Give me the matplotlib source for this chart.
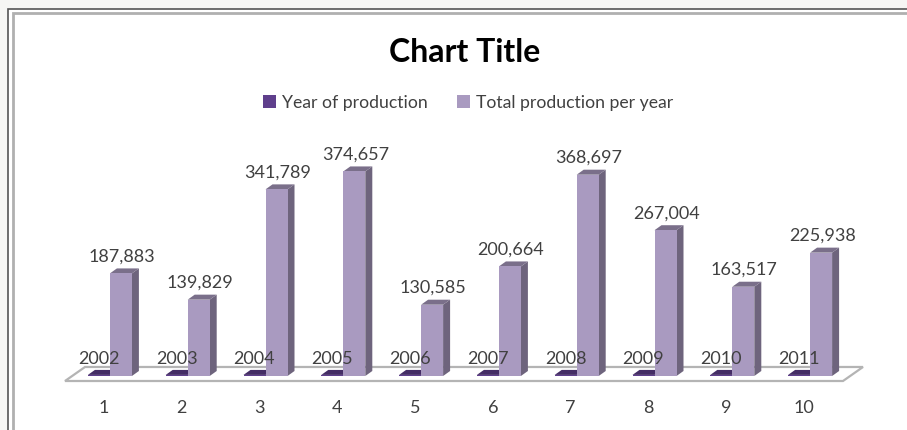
import matplotlib
matplotlib.use('Agg')
import matplotlib.pyplot as plt
from matplotlib.patches import Polygon, Rectangle

categories = [1, 2, 3, 4, 5, 6, 7, 8, 9, 10]
years = [2002, 2003, 2004, 2005, 2006, 2007, 2008, 2009, 2010, 2011]
totals = [187883, 139829, 341789, 374657, 130585, 200664, 368697, 267004, 163517, 225938]

W, H = 907, 430
plt.rcParams['font.family'] = ['Lato', 'DejaVu Sans']

DARK = '#5f3f8c'
LIGHT = '#a99ac0'
TEXT = '#404040'

# fake 3d depth of the boxes, in data units
DX = 7 / 77.8
DY = 5 / 0.000546
BAR_W = 22 / 77.8


def shade(color, f):
    c = matplotlib.colors.to_rgb(color)
    return tuple(v * f for v in c)


def box(ax, x, h, color):
    # front face through bar(), side and top as polygons
    ax.bar(x, h, BAR_W, align='edge', color=color, zorder=4)
    r = x + BAR_W
    ax.add_patch(Polygon([(r, 0), (r + DX, DY), (r + DX, h + DY), (r, h)],
                         fc=shade(color, 0.65), ec='none', zorder=3, clip_on=False))
    ax.add_patch(Polygon([(x, h), (r, h), (r + DX, h + DY), (x + DX, h + DY)],
                         fc=shade(color, 0.72), ec='none', zorder=3, clip_on=False))


fig = plt.figure(figsize=(W / 100, H / 100), dpi=100, facecolor='#f6f6f4')
ax = fig.add_axes([65 / W, (H - 381) / H, 778 / W, 281 / H])
ax.set_xlim(0.5, 10.5)
ax.set_ylim(-9158, 505495)
ax.patch.set_alpha(0)
for s in ax.spines.values():
    s.set_visible(False)

# frame of the picture, open on the right and bottom
fig.add_artist(Rectangle((8 / W, -0.05), 1.0, 1.05 - 8.5 / H, transform=fig.transFigure,
                         fc='white', ec='#555555', lw=1.2, zorder=-3))
fig.add_artist(Rectangle((12.5 / W, -0.05), 1.0, 1.05 - 13 / H, transform=fig.transFigure,
                         fc='white', ec='#b0b0b0', lw=2, zorder=-2))

# floor
ax.add_patch(Polygon([(0.5, -9158), (10.5, -9158), (10.5 + 20 / 77.8, 16500), (0.5 + 20 / 77.8, 16500)],
                     fc='white', ec='#b4b4b4', lw=1.6, zorder=1, clip_on=False))

for c, y, t in zip(categories, years, totals):
    box(ax, c - 16 / 77.8, y, DARK)
    box(ax, c + 6 / 77.8, t, LIGHT)
    ax.annotate(f'{y}', (c - 5 / 77.8, y), xytext=(0, 6), textcoords='offset points',
                ha='center', va='bottom', fontsize=13, color=TEXT, zorder=6)
    ax.annotate(f'{t:,}', (c + 18 / 77.8, t), xytext=(0, 6.5), textcoords='offset points',
                ha='center', va='bottom', fontsize=13, color=TEXT, zorder=6)

ax.set_xticks(categories)
ax.set_yticks([])
ax.tick_params(axis='x', length=0, pad=14, labelsize=13, labelcolor=TEXT)

fig.text(465 / W, 1 - 53 / H, 'Chart Title', ha='center', va='center',
         fontsize=23, fontweight='bold', color='black')

handles = [Rectangle((0, 0), 1, 1, fc=DARK), Rectangle((0, 0), 1, 1, fc=LIGHT)]
fig.legend(handles, ['Year of production', 'Total production per year'],
           loc='center', bbox_to_anchor=(468 / W, 1 - 103 / H), ncol=2, frameon=False,
           fontsize=12.7, labelcolor=TEXT, handlelength=0.75, handleheight=0.75,
           handletextpad=0.3, columnspacing=1.7)

fig.savefig('out.png', dpi=100, facecolor=fig.get_facecolor())
